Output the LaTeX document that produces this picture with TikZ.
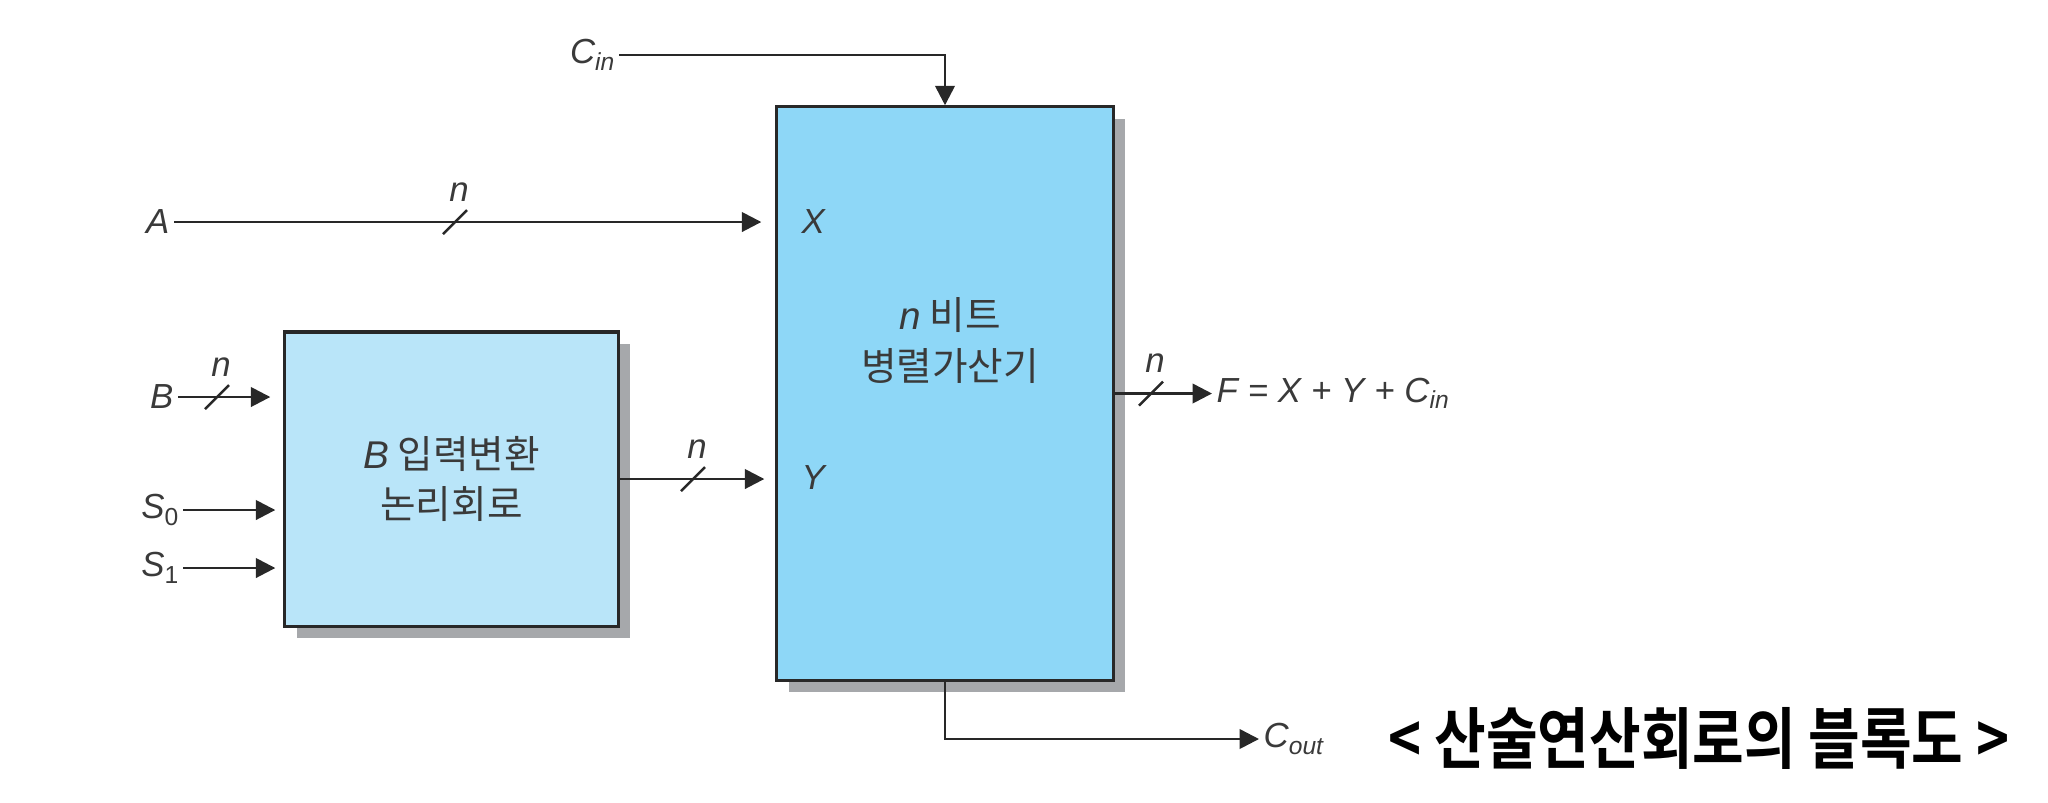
\documentclass[tikz,border=0pt]{standalone}
\usepackage{fontspec}
\setmainfont{Liberation Sans}
\newfontfamily\kr{Noto Sans CJK KR}
\newfontfamily\krb{Noto Sans CJK KR Bold}
\usepackage{tikz}
\usetikzlibrary{arrows.meta,shadows}
\definecolor{adfill}{RGB}{142,215,247}
\definecolor{cvfill}{RGB}{185,229,249}
\definecolor{shgray}{RGB}{166,168,171}
\definecolor{ink}{RGB}{40,40,40}
\definecolor{txt}{RGB}{58,58,58}
\newcommand\sub[1]{\raisebox{-0.35ex}{\fontsize{7}{8}\selectfont #1}}
\newcommand\lt[1]{{\rmfamily\itshape #1}}
\tikzset{bx/.style={draw=ink,line width=0.9pt,inner sep=0pt,drop shadow={shadow xshift=0.12cm,shadow yshift=-0.12cm,fill=shgray,opacity=1}},
 lb/.style={font=\fontsize{9.9}{11}\selectfont\itshape,text=txt,inner sep=0.04cm},
 kt/.style={font=\kr\fontsize{11}{14.3}\selectfont,text=txt,align=center},
 ar/.style={draw=ink,line width=0.75pt,-{Triangle[length=5.5pt,width=5.5pt]}},
 nbus/.pic={\draw[ink,line width=0.7pt](-12,12)--(12,-12);\node[lb] at (4,-30){n};}}
\begin{document}
\begin{tikzpicture}[x=0.01cm,y=-0.01cm]
\useasboundingbox (0,0) rectangle (2048,802);
% blocks
\node[bx,fill=adfill,minimum width=3.36cm,minimum height=5.73cm](adder) at (945,393.5){};
\node[bx,kt,fill=cvfill,minimum width=3.33cm,minimum height=2.94cm](bconv) at (451.5,479){\lt{B} 입력변환\\논리회로};
\node[kt,xshift=0.05cm,yshift=0.53cm](addtxt) at (adder.center){\lt{n} 비트\\병렬가산기};
% signals
\node[lb,anchor=east](a) at (174,222){A};\node[lb,anchor=east](b) at (178,397){B};
\node[lb,anchor=east](s0) at (183,510){S\sub{\upshape 0}};\node[lb,anchor=east](s1) at (183,568){S\sub{\upshape 1}};
\node[lb,anchor=east](cin) at (619,55){C\sub{in}};
\node[lb,anchor=west](xin) at (797,222){X};\node[lb,anchor=west](yin) at (797,478){Y};
\node[lb,anchor=west](f) at (1212,393.5){F\kern2.8pt=\kern2.8pt X\kern2.8pt+\kern2.8pt Y\kern2.8pt+\kern2.8pt C\sub{in}};
\node[lb,anchor=west](cout) at (1259,739){C\sub{out}};
\node[font=\krb\fontsize{19}{22}\selectfont,inner sep=0pt](cap) at (1699,738){\scalebox{0.84}[1]{< 산술연산회로의 블록도 >}};
% wires
\draw[ar,shorten >=0.14cm](a)--(a-|adder.west);\draw[ar,shorten >=0.13cm](b)--(b-|bconv.west);
\draw[ar,shorten >=0.08cm](s0)--(s0-|bconv.west);\draw[ar,shorten >=0.08cm](s1)--(s1-|bconv.west);
\draw[ar,shorten >=0.11cm](bconv)--(bconv-|adder.west);
\draw[ar](cin)-|(adder.north);\draw[ar](adder)--(f);\draw[ar](adder)|-(cout);
\pic at (455,222){nbus};\pic at (217,397){nbus};\pic at (693,479){nbus};\pic at (1151,393.5){nbus};
\end{tikzpicture}
\end{document}
